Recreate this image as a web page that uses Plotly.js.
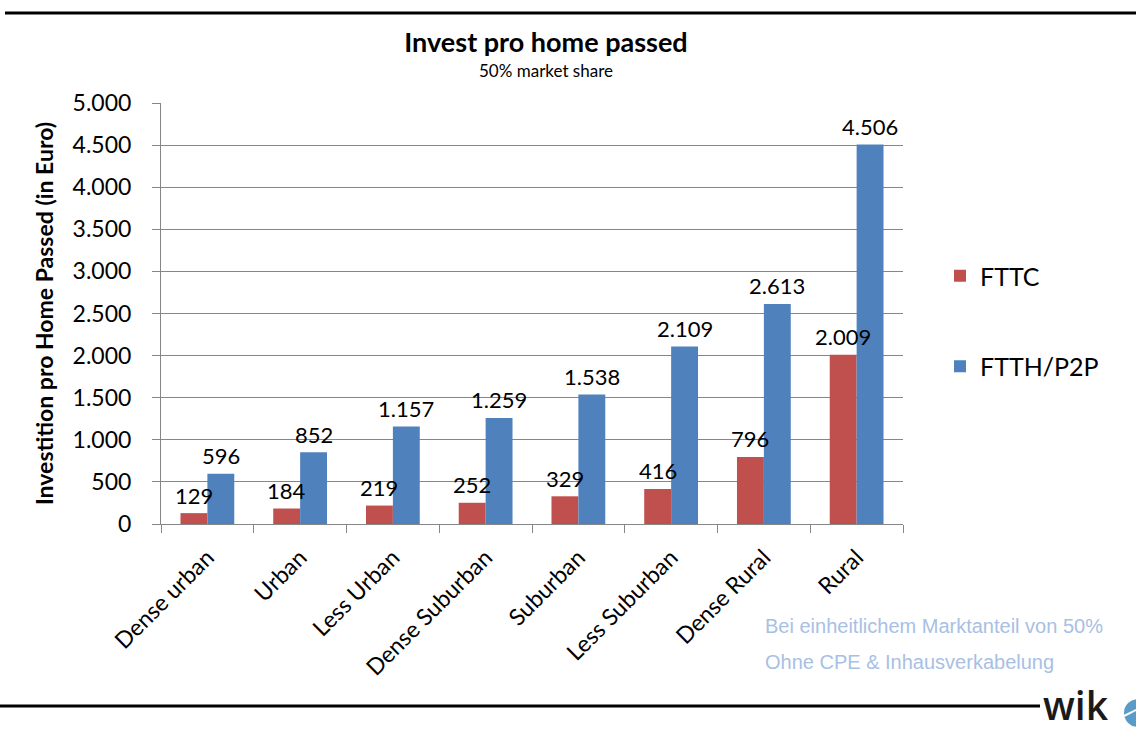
<!DOCTYPE html>
<html>
<head>
<meta charset="utf-8">
<script src="https://cdn.plot.ly/plotly-3.0.1.min.js"></script>
<style>html,body{margin:0;padding:0;background:#fff;}#chart{width:1136px;height:734px;}</style>
</head>
<body>
<div id="chart"></div>
<script>
const categories = ["Dense urban", "Urban", "Less Urban", "Dense Suburban", "Suburban", "Less Suburban", "Dense Rural", "Rural"];
const fttc = [129, 184, 219, 252, 329, 416, 796, 2009];
const ftth = [596, 852, 1157, 1259, 1538, 2109, 2613, 4506];
const seriesNames = ["FTTC", "FTTH/P2P"];
const seriesColors = ['#c0504d', '#4f81bd'];
const yTicks = [0, 500, 1000, 1500, 2000, 2500, 3000, 3500, 4000, 4500, 5000];

const FONT = "Lato, 'Open Sans', sans-serif";
const L = 161, R = 903, T = 103, B = 524;
const PW = R - L, PH = B - T;

function fmt(v) { return v.toLocaleString('de-DE'); }

const traces = [
  {type: 'bar', name: seriesNames[0], x: categories, y: fttc, marker: {color: seriesColors[0]},
   legendgroup: 'a', hovertemplate: '%{x}: %{y:,}<extra>FTTC</extra>'},
  {type: 'bar', name: seriesNames[1], x: categories, y: ftth, marker: {color: seriesColors[1]},
   legendgroup: 'b', hovertemplate: '%{x}: %{y:,}<extra>FTTH/P2P</extra>'}
];

// value labels above bars (drawn on top of all bars, as in the reference)
const labelAnns = [];
[[fttc, -13.5], [ftth, 13.5]].forEach(([vals, dx]) => {
  vals.forEach((v, i) => {
    labelAnns.push({x: categories[i], y: v, xref: 'x', yref: 'y', text: fmt(v), showarrow: false,
      xshift: dx, yshift: 18, xanchor: 'center', yanchor: 'middle',
      font: {family: FONT, size: 22, color: '#000'}});
  });
});

const layout = {
  width: 1136, height: 734,
  separators: ',.',
  paper_bgcolor: '#fff', plot_bgcolor: '#fff',
  font: {family: FONT, color: '#000'},
  margin: {l: L, r: 1136 - R, t: T, b: 734 - B},
  barmode: 'group', bargap: 0.42, bargroupgap: 0,
  title: {text: '<b>Invest pro home passed</b>', font: {family: FONT, size: 27, color: '#000'},
          xref: 'container', yref: 'container', x: 546/1136, xanchor: 'center', y: 1 - 43/734, yanchor: 'middle'},
  xaxis: {
    type: 'category', tickangle: -45, tickfont: {family: FONT, size: 23, color: '#000'},
    showline: true, linecolor: '#868686', linewidth: 1,
    ticks: 'outside', tickson: 'boundaries', ticklen: 8, tickcolor: '#868686', ticklabelstandoff: 10,
    showgrid: false, fixedrange: true
  },
  yaxis: {
    range: [0, 5000], tickvals: yTicks, tickformat: ',d',
    tickfont: {family: FONT, size: 23, color: '#000'},
    showline: true, linecolor: '#868686', linewidth: 1,
    ticks: 'outside', ticklen: 8, tickcolor: '#868686', ticklabelstandoff: 16,
    showgrid: true, gridcolor: '#868686', gridwidth: 1, zeroline: false,
    title: {text: '<b>Investition pro Home Passed (in Euro)</b>', font: {family: FONT, size: 23, color: '#000'}, standoff: 12},
    fixedrange: true
  },
  legend: {
    x: (940 - L)/PW, y: (B - 321)/PH, xanchor: 'left', yanchor: 'middle',
    font: {family: FONT, size: 25, color: '#000'},
    traceorder: 'grouped', tracegroupgap: 55, bgcolor: 'rgba(0,0,0,0)',
    itemwidth: 30
  },
  shapes: [
    {type: 'line', xref: 'paper', yref: 'paper', x0: (5 - L)/PW, x1: (1136 - L)/PW, y0: 1 + (T - 13)/PH, y1: 1 + (T - 13)/PH,
     line: {color: '#000', width: 3}},
    {type: 'line', xref: 'paper', yref: 'paper', x0: -L/PW, x1: (1040 - L)/PW, y0: -(706 - B)/PH, y1: -(706 - B)/PH,
     line: {color: '#000', width: 3}},
    {type: 'circle', xref: 'paper', yref: 'paper', x0: (1124 - L)/PW, x1: (1152 - L)/PW, y0: -(727 - B)/PH, y1: -(699 - B)/PH,
     line: {width: 0}, fillcolor: '#5b9bc8'},
    {type: 'line', xref: 'paper', yref: 'paper', x0: (1124 - L)/PW, x1: (1140 - L)/PW, y0: -(716 - B)/PH, y1: -(708 - B)/PH,
     line: {color: '#fff', width: 2}}
  ],
  annotations: labelAnns.concat([
    {text: '50% market share', xref: 'paper', yref: 'paper', x: (546 - L)/PW, y: 1 + (T - 71)/PH,
     showarrow: false, font: {family: FONT, size: 17, color: '#000'}, xanchor: 'center', yanchor: 'middle'},
    {text: 'Bei einheitlichem Marktanteil von 50%', xref: 'paper', yref: 'paper', x: (763 - L)/PW, y: -(626 - B)/PH,
     showarrow: false, font: {family: "'Liberation Sans', Arial, sans-serif", size: 20, color: '#a8c0e4'}, xanchor: 'left', yanchor: 'middle'},
    {text: 'Ohne CPE &amp; Inhausverkabelung', xref: 'paper', yref: 'paper', x: (763 - L)/PW, y: -(662 - B)/PH,
     showarrow: false, font: {family: "'Liberation Sans', Arial, sans-serif", size: 20, color: '#a8c0e4'}, xanchor: 'left', yanchor: 'middle'},
    {text: 'wik', xref: 'paper', yref: 'paper', x: (1041 - L)/PW, y: -(704 - B)/PH,
     showarrow: false, font: {family: "'Open Sans', sans-serif", size: 39, color: '#1a1a1a', weight: 600}, xanchor: 'left', yanchor: 'middle'}
  ])
};

Plotly.newPlot('chart', traces, layout, {displayModeBar: false});
</script>
</body>
</html>
